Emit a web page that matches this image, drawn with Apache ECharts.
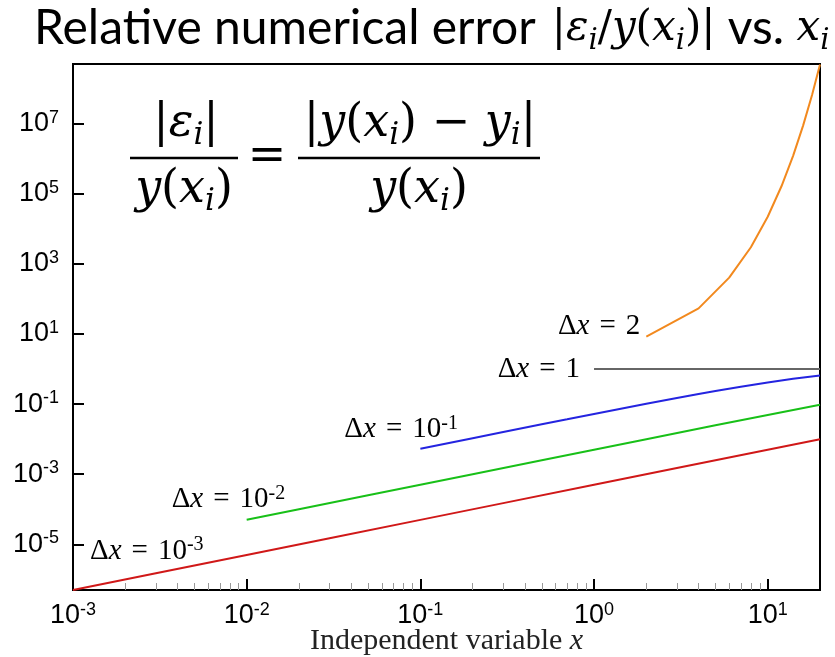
<!DOCTYPE html>
<html>
<head>
<meta charset="utf-8">
<script src="https://cdn.jsdelivr.net/npm/echarts@6/dist/echarts.min.js"></script>
<style>
html, body { margin: 0; padding: 0; background: #fff; }
#chart { width: 835px; height: 657px; }
</style>
</head>
<body>
<div id="chart"></div>
<script>
// Explicit Euler on y' = -y: relative error |eps_i / y(x_i)| for each step size
const xStep0001 = [0.001, 0.003, 0.01, 0.03, 0.1, 0.3, 1, 3, 10, 20];
const errStep0001 = [5.0e-7, 1.5e-6, 5.0e-6, 1.5e-5, 5.0e-5, 1.5e-4, 5.0e-4, 1.5e-3, 4.99e-3, 9.96e-3];

const xStep001 = [0.01, 0.02, 0.05, 0.1, 0.2, 0.5, 1, 2, 5, 10, 15, 20];
const errStep001 = [5.03e-5, 1.01e-4, 2.52e-4, 5.03e-4, 1.006e-3, 2.51e-3, 5.02e-3, 1.0e-2, 2.49e-2, 4.91e-2, 7.27e-2, 9.58e-2];

const xStep01 = [0.1, 0.2, 0.3, 0.5, 0.7, 1, 1.5, 2, 3, 4, 5, 7, 10, 14, 20];
const errStep01 = [0.00535, 0.0107, 0.0160, 0.0265, 0.0368, 0.0522, 0.0773, 0.102, 0.149, 0.193, 0.235, 0.313, 0.415, 0.528, 0.658];

const xStep1 = [1, 2, 3, 4, 5, 6, 7, 8, 9, 10, 11, 12, 13, 14, 15, 16, 17, 18, 19, 20];
const errStep1 = [1, 1, 1, 1, 1, 1, 1, 1, 1, 1, 1, 1, 1, 1, 1, 1, 1, 1, 1, 1];

const xStep2 = [2, 4, 6, 8, 10, 12, 14, 16, 18, 20];
const errStep2 = [8.39, 53.6, 404, 2980, 22000, 163000, 1.2e6, 8.89e6, 6.57e7, 4.85e8];

// Axis ticks
const xMajorTicks = [0.001, 0.01, 0.1, 1, 10];
const xMinorTicks = [
  0.002, 0.003, 0.004, 0.005, 0.006, 0.007, 0.008, 0.009,
  0.02, 0.03, 0.04, 0.05, 0.06, 0.07, 0.08, 0.09,
  0.2, 0.3, 0.4, 0.5, 0.6, 0.7, 0.8, 0.9,
  2, 3, 4, 5, 6, 7, 8, 9
];
const yTicks = [1e-5, 1e-3, 1e-1, 1e1, 1e3, 1e5, 1e7];

// Curve labels: step size text parts (base, superscript)
const stepLabels = [
  { base: '10', sup: '-3' },
  { base: '10', sup: '-2' },
  { base: '10', sup: '-1' },
  { base: '1', sup: '' },
  { base: '2', sup: '' }
];

const colors = ['#d01818', '#18c018', '#2424e0', '#666666', '#f2891e'];

function pairs(xs, ys) { return xs.map((x, i) => [x, ys[i]]); }

const chart = echarts.init(document.getElementById('chart'), null, { renderer: 'canvas' });

const tickFont = 'Liberation Sans';
const serif = 'Liberation Serif';
const mathFont = 'DejaVu Serif';

function powLabel(v) {
  const e = Math.round(Math.log10(v));
  return '{b|10}{s|' + e + '}';
}
const powRich = {
  b: { fontFamily: tickFont, fontSize: 27, lineHeight: 30, color: '#000' },
  s: { fontFamily: tickFont, fontSize: 18, lineHeight: 18, verticalAlign: 'top', color: '#000' }
};

const seriesDefs = [
  [xStep0001, errStep0001],
  [xStep001, errStep001],
  [xStep01, errStep01],
  [xStep1, errStep1],
  [xStep2, errStep2]
];

const tStyle = { fontFamily: 'Lato', fontWeight: 'normal', fontSize: 48, color: '#000', lineHeight: 54 };
const mStyle = { fontFamily: mathFont, fontWeight: 'normal', fontSize: 42, color: '#000', lineHeight: 54 };

chart.setOption({
  animation: false,
  backgroundColor: '#fff',
  title: {
    left: 34,
    top: 2,
    padding: 0,
    text: '{t|Relative numerical error}{g|}{m||}{mi|ε}{sub|i}{m|/}{mi|y}{m|(}{mi|x}{sub|i}{m|)|}{t| vs. }{mi|x}{sub|i}',
    textStyle: {
      fontWeight: 'normal',
      rich: {
        t: tStyle,
        g: { width: 16, fontSize: 10 },
        m: mStyle,
        mi: Object.assign({}, mStyle, { fontStyle: 'italic' }),
        sub: { fontFamily: mathFont, fontWeight: 'normal', fontStyle: 'italic', fontSize: 29, color: '#000', verticalAlign: 'bottom', lineHeight: 38 }
      }
    }
  },
  grid: {
    left: 73, right: 15, top: 64, bottom: 67,
    outerBoundsMode: 'none',
    containLabel: false,
    show: true, borderColor: '#000', borderWidth: 2
  },
  xAxis: [
    {
      type: 'log', min: 0.001, max: 20, position: 'bottom',
      axisLine: { lineStyle: { color: '#000', width: 2 } },
      axisTick: { inside: true, length: 11, customValues: xMajorTicks, lineStyle: { color: '#000', width: 2 } },
      axisLabel: { customValues: xMajorTicks, margin: 11, formatter: powLabel, rich: powRich },
      splitLine: { show: false },
      minorTick: { show: false },
      name: '{n|Independent variable }{i|x}',
      nameLocation: 'middle',
      nameGap: 36,
      nameMoveOverlap: false,
      nameTextStyle: {
        rich: {
          n: { fontFamily: serif, fontSize: 30, color: '#222' },
          i: { fontFamily: serif, fontStyle: 'italic', fontSize: 30, color: '#222' }
        }
      }
    },
    {
      type: 'log', min: 0.001, max: 20, position: 'bottom', gridIndex: 0,
      axisLine: { show: false },
      axisTick: { inside: true, length: 7, customValues: xMinorTicks, lineStyle: { color: '#999', width: 1 } },
      axisLabel: { show: false },
      splitLine: { show: false }
    }
  ],
  yAxis: {
    type: 'log', min: 5e-7, max: 5e8,
    axisLine: { lineStyle: { color: '#000', width: 2 } },
    axisTick: { inside: true, length: 11, customValues: yTicks, lineStyle: { color: '#000', width: 2 } },
    axisLabel: { customValues: yTicks, margin: 14, formatter: powLabel, rich: powRich },
    splitLine: { show: false },
    minorTick: { show: false }
  },
  series: seriesDefs.map((d, i) => ({
    type: 'line',
    xAxisIndex: 0,
    yAxisIndex: 0,
    data: pairs(d[0], d[1]),
    showSymbol: false,
    symbol: 'none',
    lineStyle: { color: colors[i], width: 2 },
    z: 3
  }))
});

// Curve annotations, anchored at each curve's first point
const labelOffsets = [
  { dx: 17, dy: -39, align: 'left' },
  { dx: -75, dy: -20, align: 'left' },
  { dx: -76, dy: -19, align: 'left' },
  { dx: -14, dy: 0, align: 'right' },
  { dx: -6, dy: -10, align: 'right' }
];
const labelRich = {
  n: { fontFamily: serif, fontSize: 29, color: '#222', lineHeight: 32 },
  i: { fontFamily: serif, fontStyle: 'italic', fontSize: 29, color: '#222', lineHeight: 32 },
  e: { fontFamily: serif, fontSize: 29, color: '#222', lineHeight: 32, padding: [0, 10, 0, 10] },
  s: { fontFamily: serif, fontSize: 20, color: '#222', verticalAlign: 'top', lineHeight: 20 }
};

const graphics = stepLabels.map((lab, i) => {
  const p = chart.convertToPixel({ seriesIndex: i }, [seriesDefs[i][0][0], seriesDefs[i][1][0]]);
  const o = labelOffsets[i];
  let text = '{n|Δ}{i|x}{e|=}{n|' + lab.base + '}';
  if (lab.sup) text += '{s|' + lab.sup + '}';
  return {
    type: 'text',
    x: p[0] + o.dx,
    y: p[1] + o.dy,
    z: 10,
    style: { text: text, rich: labelRich, align: o.align, verticalAlign: 'middle' }
  };
});

// Definition of the relative error, written as two fractions
const fRich = {
  m: { fontFamily: mathFont, fontSize: 46, color: '#000', lineHeight: 54 },
  mi: { fontFamily: mathFont, fontStyle: 'italic', fontSize: 46, color: '#000', lineHeight: 54 },
  sub: { fontFamily: mathFont, fontStyle: 'italic', fontSize: 31, color: '#000', verticalAlign: 'bottom', lineHeight: 38 }
};
const yOfX = '{mi|y}{m|(}{mi|x}{sub|i}{m|)}';
const formulaParts = [
  { text: '{m||}{mi|ε}{sub|i}{m||}', x: 186, y: 124 },
  { text: yOfX, x: 184, y: 190 },
  { text: '{m|=}', x: 267, y: 157 },
  { text: '{m||}' + yOfX + '{m| − }{mi|y}{sub|i}{m||}', x: 420, y: 124 },
  { text: yOfX, x: 419, y: 190 }
];
formulaParts.forEach(f => {
  graphics.push({
    type: 'text', x: f.x, y: f.y, z: 10,
    style: { text: f.text, rich: fRich, align: 'center', verticalAlign: 'middle' }
  });
});
[[130, 238], [298, 540]].forEach(b => {
  graphics.push({
    type: 'line', z: 10,
    shape: { x1: b[0], y1: 158, x2: b[1], y2: 158 },
    style: { stroke: '#000', lineWidth: 2.5 }
  });
});

chart.setOption({ graphic: graphics });
</script>
</body>
</html>
